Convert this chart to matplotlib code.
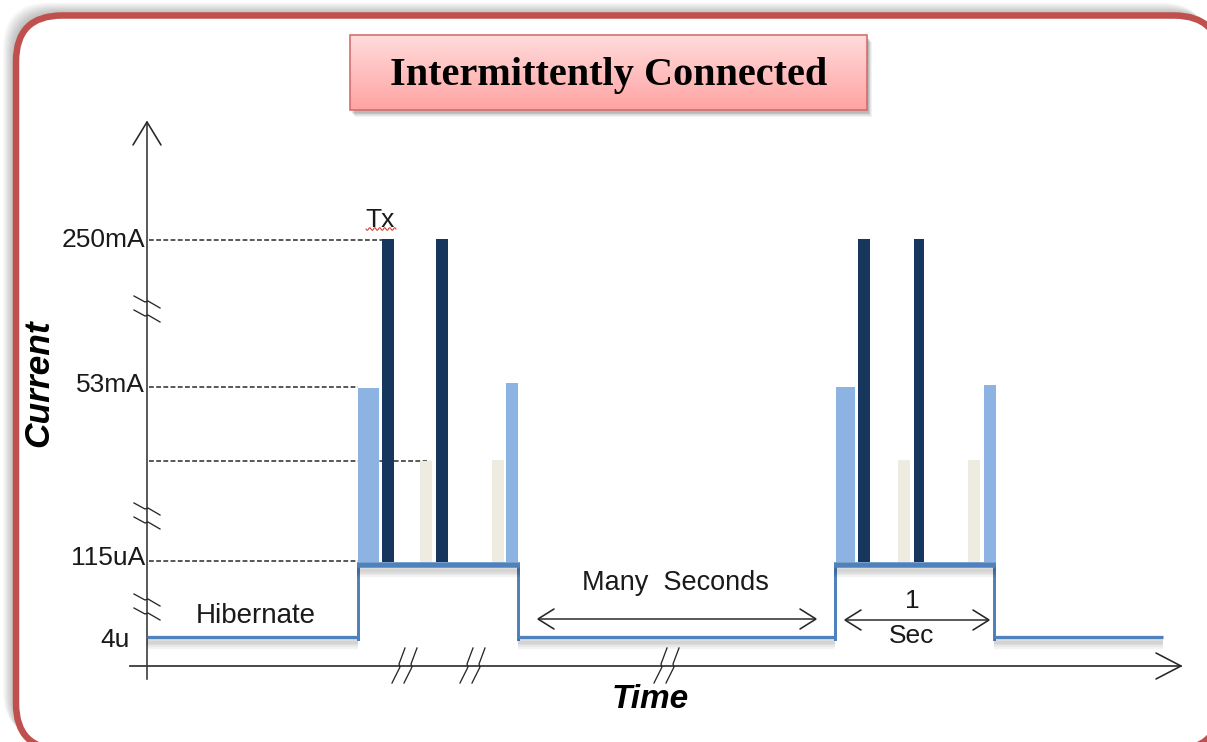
import numpy as np
import matplotlib
matplotlib.use("Agg")
import matplotlib.pyplot as plt
from matplotlib.patches import FancyBboxPatch, Rectangle
import matplotlib.patheffects as pe

# ---------------- data (schematic units: x = time, y = current level) ----------------
level_labels = ["250mA", "53mA", "", "115uA", "4u"]
level_values = [240, 387, 461, 561, 637]
dash_ends = [383, 358, 427, 358, None]

burst_starts = [358, 835]
burst_ends = [518, 994]
time_start, time_end = 147, 1163
sleep_level = 637
awake_level = 562

pulse_kinds = ["rx", "tx", "idle", "tx", "idle", "rx"]
burst1_lefts = [358, 382, 420, 436, 492, 506]
burst1_widths = [21, 12, 12, 12, 12, 12]
burst1_tops = [388, 239, 461, 239, 460, 383]
burst2_lefts = [836, 858, 898, 914, 968, 984]
burst2_widths = [19, 12, 12, 10, 12, 12]
burst2_tops = [387, 239, 460, 239, 460, 385]

kind_colors = {"rx": "#8DB3E2", "tx": "#17365D", "idle": "#EEECE1"}
LINE_BLUE = "#4F81BD"
PX = 0.72  # points per pixel at 100 dpi

W, H = 1207, 742
fig = plt.figure(figsize=(W / 100, H / 100), dpi=100)
ax = fig.add_axes([0, 0, 1, 1])
ax.set_xlim(0, W)
ax.set_ylim(H, 0)
ax.axis("off")

SANS = "Liberation Sans"

# ---------------- outer frame with soft shadow ----------------
fx, fy, fw, fh, rad = 16, 15.5, 1204, 734, 46
for k in range(13, 0, -1):
    ax.add_patch(FancyBboxPatch((fx - k * 1.0, fy - k * 1.0), fw, fh,
                                boxstyle=f"round,pad=0,rounding_size={rad}",
                                fc=(0, 0, 0, 0.025), ec="none", zorder=0, clip_on=True))
ax.add_patch(FancyBboxPatch((fx, fy), fw, fh,
                            boxstyle=f"round,pad=0,rounding_size={rad}",
                            fc="white", ec="#C0504D", lw=6.5 * PX, zorder=1, clip_on=True))

# ---------------- title box ----------------
tx0, ty0, tx1, ty1 = 350, 35, 867, 110
for k in range(6, 0, -1):
    ax.add_patch(Rectangle((tx0 + 1 + k * 0.6, ty0 + 2 + k * 0.8), tx1 - tx0, ty1 - ty0,
                           fc=(0, 0, 0, 0.05), ec="none", zorder=2))
c_top = np.array([1.0, 0.86, 0.86])
c_bot = np.array([1.0, 0.64, 0.64])
t = np.linspace(0, 1, 100)[:, None, None]
grad = c_top * (1 - t) + c_bot * t
ax.imshow(grad, extent=(tx0, tx1, ty1, ty0), origin="upper", aspect="auto", zorder=3,
          interpolation="bilinear")
ax.add_patch(Rectangle((tx0, ty0), tx1 - tx0, ty1 - ty0, fc="none", ec="#D46A6A",
                       lw=1.6 * PX, zorder=4))
ax.text((tx0 + tx1) / 2 + 0.5, 85, "Intermittently Connected", ha="center", va="baseline",
        fontsize=29, fontweight="bold", family="Liberation Serif", color="black", zorder=5)
ax.set_xlim(0, W)
ax.set_ylim(H, 0)

AX_COL = "#262626"


def chevron(tip, direction, length, half):
    tipx, tipy = tip
    dx, dy = direction
    px, py = -dy, dx
    bx, by = tipx - dx * length, tipy - dy * length
    ax.plot([bx + px * half, tipx, bx - px * half], [by + py * half, tipy, by - py * half],
            color=AX_COL, lw=1.6 * PX, solid_capstyle="round", solid_joinstyle="miter", zorder=8)


# ---------------- axes ----------------
ax.plot([147, 147], [122, 679], color=AX_COL, lw=1.5 * PX, zorder=6)
chevron((147, 122), (0, -1), 23, 14)
ax.plot([130, 1181], [666, 666], color="#3a3a3a", lw=1.8 * PX, zorder=6)
chevron((1181, 666), (1, 0), 25, 13)

# y-axis break marks
for yb in [296, 503, 594]:
    for off in [0, 14]:
        y0 = yb + off
        ax.plot([134, 145, 148, 160], [y0, y0 + 6, y0 + 5, y0 + 12], color=AX_COL,
                lw=1.3 * PX, zorder=7)
# x-axis break marks
for xb in [398, 466, 660]:
    for off in [0, 12]:
        x0 = xb + off
        ax.plot([x0 + 7, x0 + 1, x0 + 2, x0 - 6], [648, 664, 667, 683], color=AX_COL,
                lw=1.3 * PX, zorder=7)

# ---------------- level labels & dashed guide lines ----------------
label_right = [145, 145, 145, 145, 130]
label_base_off = [7, 5, 0, 4, 10]
for lab, lv, de, xr, bo in zip(level_labels, level_values, dash_ends, label_right, label_base_off):
    if lab:
        ax.text(xr, lv + bo, lab, ha="right", va="baseline", fontsize=19,
                family=SANS, color="#1a1a1a", zorder=9)
    if de is not None:
        ax.plot([149, de], [lv, lv], color="#333333", lw=1.6 * PX,
                linestyle=(0, (3, 1.5)), zorder=6)

# ---------------- pulses ----------------
for lefts, widths, tops in [(burst1_lefts, burst1_widths, burst1_tops),
                            (burst2_lefts, burst2_widths, burst2_tops)]:
    heights = [tp - awake_level for tp in tops]
    cols = [kind_colors[k] for k in pulse_kinds]
    ax.bar(lefts, heights, width=widths, bottom=awake_level, align="edge",
           color=cols, edgecolor="none", zorder=10)

# ---------------- power state line ----------------
def soft_shadow(base_off):
    return [pe.SimpleLineShadow(offset=(0, -base_off - i * 1.2), shadow_color="black",
                                alpha=0.045, linewidth=6) for i in range(4)] + [pe.Normal()]


xs = [time_start]
for s, e in zip(burst_starts, burst_ends):
    ax.plot([xs[-1], s], [sleep_level, sleep_level], color=LINE_BLUE, lw=3.2 * PX,
            zorder=11, path_effects=soft_shadow(2), solid_capstyle="butt")
    ax.plot([s, s], [sleep_level + 1.5, awake_level + 2], color=LINE_BLUE, lw=3 * PX,
            zorder=11)
    ax.plot([e, e], [sleep_level + 1.5, awake_level + 2], color=LINE_BLUE, lw=3 * PX,
            zorder=11)
    ax.plot([s - 1.5, e + 1.5], [awake_level + 2.5, awake_level + 2.5], color=LINE_BLUE,
            lw=5.5 * PX, zorder=12, path_effects=soft_shadow(2.5), solid_capstyle="butt")
    xs.append(e)
ax.plot([xs[-1], time_end], [sleep_level, sleep_level], color=LINE_BLUE, lw=3.2 * PX,
        zorder=11, path_effects=soft_shadow(2), solid_capstyle="butt")

# ---------------- annotations ----------------
ax.text(365, 227, "Tx", ha="left", va="baseline", fontsize=19, family=SANS,
        color="#1a1a1a", zorder=9)
wx = np.linspace(366, 396, 60)
ax.plot(wx, 229 + 1.3 * np.sin((wx - 366) * 2 * np.pi / 5), color="#E03020", lw=1.0 * PX,
        zorder=9)

ax.text(256, 623, "Hibernate", ha="center", va="baseline", fontsize=20, family=SANS,
        color="#1a1a1a", zorder=9)
ax.text(675, 590, "Many  Seconds", ha="center", va="baseline", fontsize=19.5, family=SANS,
        color="#1a1a1a", zorder=9)
ax.plot([539, 815], [619, 619], color=AX_COL, lw=1.5 * PX, zorder=8)
chevron((538, 619), (-1, 0), 16, 10)
chevron((816, 619), (1, 0), 16, 10)

ax.text(912, 608, "1", ha="center", va="baseline", fontsize=19, family=SANS,
        color="#1a1a1a", zorder=9)
ax.text(912, 643, "Sec", ha="center", va="baseline", fontsize=19, family=SANS,
        color="#1a1a1a", zorder=13)
ax.plot([846, 988], [620, 620], color=AX_COL, lw=1.5 * PX, zorder=8)
chevron((845, 620), (-1, 0), 16, 10)
chevron((989, 620), (1, 0), 16, 10)

ax.text(650, 708, "Time", ha="center", va="baseline", fontsize=24, fontweight="bold",
        fontstyle="italic", family=SANS, color="black", zorder=9)
ax.text(39, 383, "Current", ha="center", va="center", rotation=90, fontsize=25.5,
        fontweight="bold", fontstyle="italic", family=SANS, color="black", zorder=9)

fig.savefig("out.png", dpi=100)
